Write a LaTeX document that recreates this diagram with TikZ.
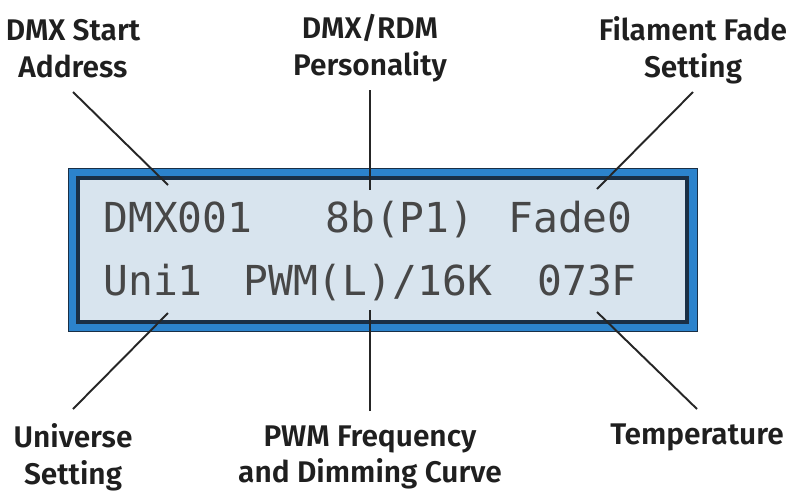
\documentclass[tikz,border=0pt]{standalone}
\usepackage{fontspec}
\IfFontExistsTF{Fira Sans SemiBold}
    {\setmainfont{Fira Sans}[BoldFont={Fira Sans SemiBold}]}
    {\setmainfont{Fira Sans}}
\newfontfamily\lcdfont{DejaVu Sans Mono}
\usetikzlibrary{positioning}
\definecolor{lcdblue}{HTML}{2C83CC}
\definecolor{lcdface}{HTML}{D8E4EE}
\definecolor{lcdedge}{HTML}{1A2F45}
\definecolor{lcdink}{HTML}{474747}
\tikzset{
    callout/.style={font=\fontsize{17}{21}\selectfont\bfseries, align=center,
        text=black!88, inner xsep=0pt, inner ysep=8pt, text depth=0pt},
    lcdchar/.style={font=\lcdfont\fontsize{23.5}{23.5}\selectfont, text=lcdink,
        inner sep=0pt, anchor=base west},
    leader/.style={line width=1.1pt, black!85},
    bezel/.style={fill=lcdblue, draw=lcdedge, line width=0.5pt},
    screen/.style={fill=lcdface, draw=lcdedge, line width=1.8pt}
}

\begin{document}
\begin{tikzpicture}[x=0.02cm, y=-0.02cm]
    \useasboundingbox (0,0) rectangle (795,498);
    % display
    \draw[bezel] (68,168) rectangle (697,331);
    \draw[screen] (78,178) rectangle (687,322);
    \foreach \n/\x/\y/\t in {addr/103/232/DMX001, pers/325/232/8b(P1),
        fade/508/232/Fade0, uni/103/295/Uni1, pwm/243/295/{PWM(L)/16K},
        temp/537/295/073F}{
        \node[lcdchar] (\n) at (\x,\y) {\t};
    }
    % ends of the leaders on the screen
    \coordinate (addrpt) at (168,185);
    \coordinate (perspt) at (370,190);
    \coordinate (fadept) at (597,189);
    \coordinate (unipt) at (168,313);
    \coordinate (pwmpt) at (370,310);
    \coordinate (temppt) at (597,312);
    % callouts
    \node[callout, anchor=south] (addrlbl) at (73,92) {DMX Start\\Address};
    \node[callout, anchor=south] (perslbl) at (370,90) {DMX/RDM\\Personality};
    \node[callout, anchor=south] (fadelbl) at (693,92) {Filament Fade\\Setting};
    \node[callout, anchor=north] (unilbl) at (73,409) {Universe\\Setting};
    \node[callout, anchor=north] (pwmlbl) at (370,411) {PWM Frequency\\and Dimming Curve};
    \node[callout, anchor=north] (templbl) at (697,409) {Temperature};
    \foreach \a/\b in {addrlbl/addrpt, perslbl/perspt, fadelbl/fadept}
        \draw[leader] (\a.south) -- (\b);
    \foreach \a/\b in {unilbl/unipt, pwmlbl/pwmpt, templbl/temppt}
        \draw[leader] (\a.north) -- (\b);
\end{tikzpicture}
\end{document}
